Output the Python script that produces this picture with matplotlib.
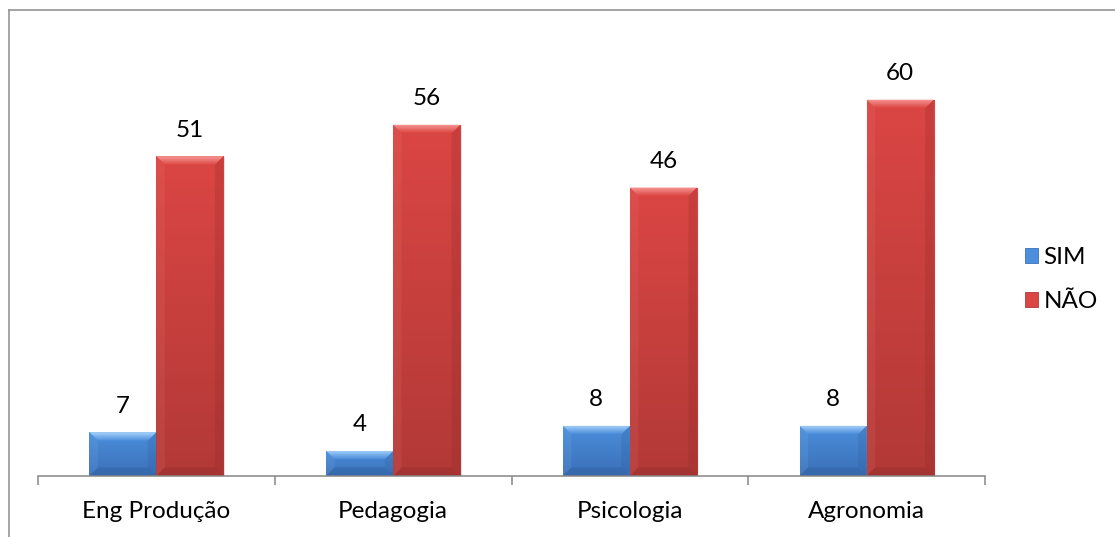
import numpy as np
import matplotlib
matplotlib.use("Agg")
import matplotlib.pyplot as plt
from matplotlib.patches import Polygon, Patch, Rectangle
from matplotlib.lines import Line2D
from matplotlib.colors import LinearSegmentedColormap

# Data
cursos = ["Eng Produção", "Pedagogia", "Psicologia", "Agronomia"]
sim = [7, 4, 8, 8]
nao = [51, 56, 46, 60]
series_names = ["SIM", "NÃO"]

plt.rcParams['font.family'] = ['Lato', 'DejaVu Sans']
FS = 17.5

W, H = 1115, 537
DPI = 100
fig = plt.figure(figsize=(W / DPI, H / DPI), dpi=DPI)
fig.patch.set_facecolor("white")

ax = fig.add_axes([38 / W, 1 - 476 / H, 947 / W, (476 - 37) / H])
ax.set_xlim(-0.5, 3.5)
ax.set_ylim(0, 70)

x = np.arange(len(cursos))
bw = 0.283

styles = {
    "SIM": dict(top="#4b8edb", bottom="#3b70b8", light="#a8d3fa", dark="#2d5a96"),
    "NÃO": dict(top="#db4644", bottom="#b23937", light="#f89a96", dark="#8a2826"),
}

bars_sim = ax.bar(x - bw / 2, sim, bw, color=styles["SIM"]["top"], zorder=2,
                  linewidth=0)
bars_nao = ax.bar(x + bw / 2, nao, bw, color=styles["NÃO"]["top"], zorder=2,
                  linewidth=0)

# pixel size in data units for the bevel and shadow
p0 = ax.transData.transform((0, 0))
p1 = ax.transData.transform((1, 1))
px_x = 1.0 / (p1[0] - p0[0])
px_y = 1.0 / (p1[1] - p0[1])


def bevel_bar(rect, st):
    x0, y0 = rect.get_x(), rect.get_y()
    x1, y1 = x0 + rect.get_width(), y0 + rect.get_height()
    # soft shadow
    for k, a in ((3, 0.05), (2, 0.08), (1, 0.11)):
        ax.add_patch(Rectangle((x0 + k * px_x * 0.7, y0 - k * px_y * 0.3),
                               x1 - x0, y1 - y0, facecolor="#000000",
                               alpha=a, linewidth=0, zorder=1.5))
    # vertical gradient body
    cmap = LinearSegmentedColormap.from_list("g", [st["bottom"], st["top"]])
    grad = np.linspace(0, 1, 256).reshape(-1, 1)
    im = ax.imshow(grad, extent=(x0, x1, y0, y1), origin="lower",
                   cmap=cmap, aspect="auto", zorder=2.1,
                   interpolation="bilinear")
    im.set_clip_path(rect)
    b = 8.5
    bx, by = b * px_x, min(b * px_y, (y1 - y0) / 2.2)
    top = [(x0, y1), (x1, y1), (x1 - bx, y1 - by), (x0 + bx, y1 - by)]
    left = [(x0, y0), (x0, y1), (x0 + bx, y1 - by), (x0 + bx, y0 + by)]
    right = [(x1, y0), (x1, y1), (x1 - bx, y1 - by), (x1 - bx, y0 + by)]
    bottom = [(x0, y0), (x1, y0), (x1 - bx, y0 + by), (x0 + bx, y0 + by)]
    # top bevel with a light-to-body gradient
    tcmap = LinearSegmentedColormap.from_list("t", [st["top"], st["light"]])
    tim = ax.imshow(np.linspace(0, 1, 64).reshape(-1, 1),
                    extent=(x0, x1, y1 - by, y1), origin="lower", cmap=tcmap,
                    aspect="auto", zorder=2.3, interpolation="bilinear")
    tpoly = Polygon(top, closed=True, facecolor="none", linewidth=0,
                    transform=ax.transData)
    ax.add_patch(tpoly)
    tim.set_clip_path(tpoly)
    ax.add_patch(Polygon(left, closed=True, facecolor=st["light"], alpha=0.10,
                         linewidth=0, zorder=2.2))
    ax.add_patch(Polygon(right, closed=True, facecolor=st["dark"], alpha=0.22,
                         linewidth=0, zorder=2.2))
    ax.add_patch(Polygon(bottom, closed=True, facecolor=st["dark"], alpha=0.35,
                         linewidth=0, zorder=2.2))


for r in bars_sim:
    bevel_bar(r, styles["SIM"])
for r in bars_nao:
    bevel_bar(r, styles["NÃO"])

ax.set_xlim(-0.5, 3.5)
ax.set_ylim(0, 70)

# value labels
off = 26 / DPI * 72
for xs, vals in ((x - bw / 2, sim), (x + bw / 2, nao)):
    for xi, v in zip(xs, vals):
        ax.annotate(str(v), (xi, v), xytext=(0, off), textcoords="offset points",
                    ha="center", va="center", fontsize=FS, color="black")

# axes styling
for s in ("top", "right", "left"):
    ax.spines[s].set_visible(False)
ax.spines["bottom"].set_color("#868686")
ax.spines["bottom"].set_linewidth(1.1)
ax.spines["bottom"].set_zorder(3)
ax.set_yticks([])
ax.set_xticks(np.arange(-0.5, 4.0, 1.0))
ax.set_xticklabels([])
ax.set_xticks(x, minor=True)
ax.set_xticklabels(cursos, minor=True, fontsize=FS)
ax.tick_params(axis="x", which="major", length=6.5, width=1.1,
               color="#868686", direction="out")
ax.tick_params(axis="x", which="minor", length=0, pad=18)
ax.patch.set_alpha(0)

# legend
handles = [Patch(facecolor=styles[n]["top"], edgecolor=styles[n]["bottom"],
                 linewidth=0.6) for n in series_names]
fig.legend(handles, series_names, loc="upper left",
           bbox_to_anchor=(1025 / W, 1 - 247 / H), frameon=False,
           fontsize=FS, handlelength=0.55, handleheight=0.55,
           handletextpad=0.22, labelspacing=0.95, borderpad=0,
           borderaxespad=0)

# chart frame
fig.add_artist(Line2D([9 / W, 1.0], [1 - 10 / H, 1 - 10 / H],
                      color="#8c8c8c", linewidth=1.1))
fig.add_artist(Line2D([9 / W, 9 / W], [0.0, 1 - 10 / H],
                      color="#8c8c8c", linewidth=1.1))

fig.savefig("out.png", dpi=DPI)
